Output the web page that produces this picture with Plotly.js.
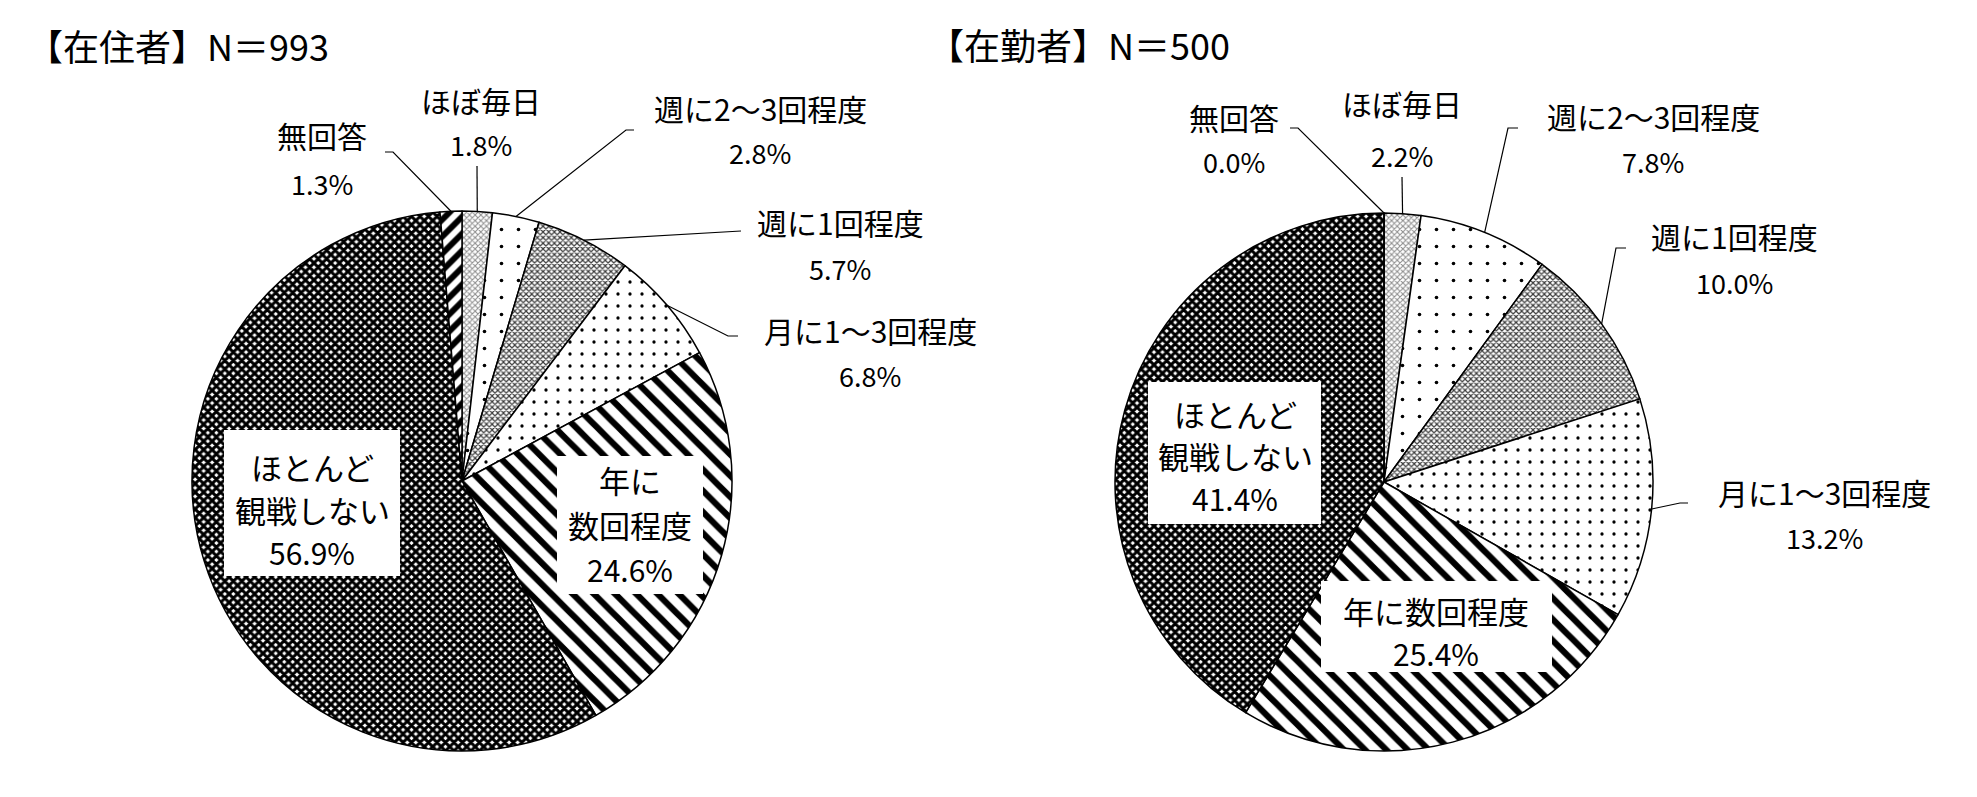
<!DOCTYPE html>
<html><head><meta charset="utf-8">
<script src="https://cdn.plot.ly/plotly-3.0.1.min.js"></script>
<style>html,body{margin:0;padding:0;background:#fff;} #chart{width:1977px;height:797px;}</style>
</head><body><div id="chart"></div>
<script>
const W = 1977, H = 797;
const FONT = "'Noto Sans CJK JP', 'Noto Sans', sans-serif";

// ---- data ----
const categories = ['ほぼ毎日', '週に2～3回程度', '週に1回程度', '月に1～3回程度', '年に数回程度', 'ほとんど観戦しない', '無回答'];
const residentValues = [1.8, 2.8, 5.7, 6.8, 24.6, 56.9, 1.3];
const workerValues = [2.2, 7.8, 10.0, 13.2, 25.4, 41.4, 0.0];
const chartTitles = ['【在住者】N＝993', '【在勤者】N＝500'];
// label line breaks for the in-slice labels
const residentInnerLines = { 4: ['年に', '数回程度'], 5: ['ほとんど', '観戦しない'] };
const workerInnerLines = { 4: ['年に数回程度'], 5: ['ほとんど', '観戦しない'] };

// ---- styles / layout ----
const patterns = [
  { shape: 'x', fg: '#8c8c8c', size: 4, solidity: 0.45 },
  { shape: '.', fg: '#000000', size: 17, solidity: 0.035 },
  { shape: 'x', fg: '#3c3c3c', size: 4, solidity: 0.5 },
  { shape: '.', fg: '#000000', size: 12, solidity: 0.06 },
  { shape: '\\', fg: '#000000', size: 15, solidity: 0.42 },
  { shape: 'x', fg: '#000000', size: 6, solidity: 0.75 },
  { shape: '/', fg: '#000000', size: 12, solidity: 0.5 }
];

const pies = [
  {
    values: residentValues, title: chartTitles[0], titlePos: [25, 45],
    cx: 462, cy: 481, r: 270,
    outer: {
      0: { x: 481, y1: 100, y2: 145, end: [477, 166], tick: 0 },
      1: { x: 760, y1: 108, y2: 153, end: [626, 130], tick: 8 },
      2: { x: 840, y1: 222, y2: 268, end: [741, 231], tick: 0 },
      3: { x: 870, y1: 330, y2: 375, end: [728, 336], tick: 10 },
      6: { x: 322, y1: 135, y2: 183, end: [393, 152], tick: -8 }
    },
    inner: {
      5: { box: [224, 430, 400, 576], x: 312, ys: [466, 509, 552], lines: residentInnerLines[5] },
      4: { box: [557, 456, 703, 594], x: 630, ys: [480, 524, 569], lines: residentInnerLines[4] }
    }
  },
  {
    values: workerValues, title: chartTitles[1], titlePos: [926, 44],
    cx: 1384, cy: 482, r: 269,
    outer: {
      0: { x: 1402, y1: 103, y2: 155, end: [1402, 177], tick: 0 },
      1: { x: 1653, y1: 116, y2: 162, end: [1508, 128], tick: 10 },
      2: { x: 1734, y1: 236, y2: 282, end: [1616, 248], tick: 10 },
      3: { x: 1824, y1: 492, y2: 537, end: [1680, 503], tick: 8 },
      6: { x: 1234, y1: 117, y2: 162, end: [1298, 128], tick: -8 }
    },
    inner: {
      5: { box: [1148, 382, 1321, 524], x: 1235, ys: [413, 455, 498], lines: workerInnerLines[5] },
      4: { box: [1321, 581, 1552, 672], x: 1436, ys: [610, 653], lines: workerInnerLines[4] }
    }
  }
];

const px = x => x / W;
const py = y => 1 - y / H;
const fmt = v => v.toFixed(1) + '%';

const traces = [];
const annotations = [];
const shapes = [];

function txt(x, y, text, size, anchor) {
  annotations.push({
    x: px(x), y: py(y), xref: 'paper', yref: 'paper', text: text, showarrow: false,
    xanchor: anchor || 'center', yanchor: 'middle',
    font: { family: FONT, size: size, color: '#000' }
  });
}

pies.forEach(p => {
  traces.push({
    type: 'pie', labels: categories, values: p.values, sort: false,
    direction: 'clockwise', rotation: 0, textinfo: 'none', textposition: 'none',
    hoverinfo: 'label+percent',
    domain: { x: [px(p.cx - p.r), px(p.cx + p.r)], y: [py(p.cy + p.r), py(p.cy - p.r)] },
    marker: {
      colors: categories.map(() => '#ffffff'),
      line: { color: '#000000', width: 1.5 },
      pattern: {
        shape: patterns.map(s => s.shape),
        fgcolor: patterns.map(s => s.fg),
        bgcolor: patterns.map(() => '#ffffff'),
        size: patterns.map(s => s.size),
        solidity: patterns.map(s => s.solidity),
        fillmode: 'replace'
      }
    },
    showlegend: false
  });

  txt(p.titlePos[0], p.titlePos[1], p.title, 36, 'left');

  const total = p.values.reduce((a, b) => a + b, 0);
  let cum = 0;
  p.values.forEach((v, i) => {
    const mid = (cum + v / 2) / total * 2 * Math.PI;
    cum += v;
    const o = p.outer[i];
    if (o) {
      const sx = p.cx + p.r * Math.sin(mid);
      const sy = p.cy - p.r * Math.cos(mid);
      let path = 'M' + px(sx) + ',' + py(sy) + ' L' + px(o.end[0]) + ',' + py(o.end[1]);
      if (o.tick) path += ' L' + px(o.end[0] + o.tick) + ',' + py(o.end[1]);
      shapes.push({ type: 'path', xref: 'paper', yref: 'paper', path: path, line: { color: '#000', width: 1.2 } });
      txt(o.x, o.y1, categories[i], 30);
      txt(o.x, o.y2, fmt(v), 27);
    }
    const n = p.inner[i];
    if (n) {
      shapes.push({
        type: 'rect', xref: 'paper', yref: 'paper',
        x0: px(n.box[0]), x1: px(n.box[2]), y0: py(n.box[3]), y1: py(n.box[1]),
        fillcolor: '#ffffff', line: { width: 0 }, layer: 'above'
      });
      n.lines.forEach((t, k) => txt(n.x, n.ys[k], t, 31));
      txt(n.x, n.ys[n.lines.length], fmt(v), 30);
    }
  });
});

const layout = {
  width: W, height: H, margin: { l: 0, r: 0, t: 0, b: 0 },
  paper_bgcolor: '#ffffff', plot_bgcolor: '#ffffff',
  showlegend: false, annotations: annotations, shapes: shapes,
  font: { family: FONT }
};
Plotly.newPlot('chart', traces, layout, { displayModeBar: false, staticPlot: true });
</script>
</body></html>
